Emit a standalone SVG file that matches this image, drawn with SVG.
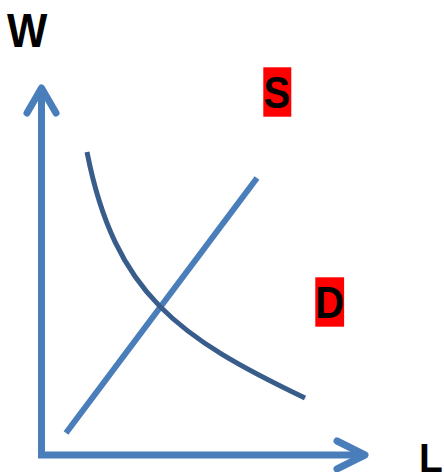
<svg xmlns="http://www.w3.org/2000/svg" width="444" height="472" viewBox="0 0 444 472">
<style>
.lbl{font-family:"Liberation Sans",Arial,sans-serif;font-weight:bold;fill:#000}
.axis{fill:none;stroke:#4A7EBB;stroke-width:7}
.head{fill:none;stroke:#4A7EBB;stroke-width:7;stroke-linecap:round;stroke-linejoin:round}
.box{fill:#FF0000}
</style>
<rect width="444" height="472" fill="#fff"/>
<g id="connectors">
<path class="axis" d="M41.5,92 L41.5,455 L362,455" stroke-linejoin="miter"/>
<path class="head" d="M27,113 L41.5,88 L56,113"/>
<path class="head" d="M337,441 L365,455 L337,469"/>
<path id="supply" d="M257,178 L66,433" fill="none" stroke="#4A7EBB" stroke-width="6"/>
<path id="demand" d="M87,152 C115,295 180,338 305,398" fill="none" stroke="#385D8A" stroke-width="5"/>
</g>
<g id="label-W"><text class="lbl" transform="translate(7,46.5) scale(0.89,1)" font-size="48">W</text></g>
<g id="label-S">
<rect class="box" x="263.3" y="67.3" width="28" height="49.4"/>
<text class="lbl" transform="translate(263.5,108) scale(0.89,1)" font-size="45">S</text>
</g>
<g id="label-D">
<rect class="box" x="315.3" y="277.3" width="28.8" height="49.4"/>
<text class="lbl" transform="translate(315.3,318) scale(0.89,1)" font-size="45">D</text>
</g>
<g id="label-L"><text class="lbl" transform="translate(419,471.5) scale(0.95,1)" font-size="41">L</text></g>
</svg>
